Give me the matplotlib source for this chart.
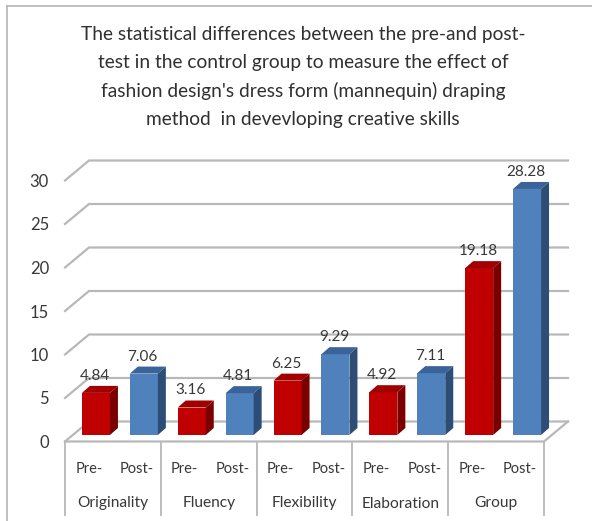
import matplotlib
matplotlib.use("Agg")
import matplotlib.pyplot as plt
from matplotlib.patches import Polygon

groups = ["Originality", "Fluency", "Flexibility", "Elaboration", "Group"]
pre_values = [4.84, 3.16, 6.25, 4.92, 19.18]
post_values = [7.06, 4.81, 9.29, 7.11, 28.28]
bar_labels = ["Pre-", "Post-"]
y_ticks = [0, 5, 10, 15, 20, 25, 30]
title_text = ("The statistical differences between the pre-and post-\n"
              "test in the control group to measure the effect of\n"
              "fashion design's dress form (mannequin) draping\n"
              "method  in devevloping creative skills")

plt.rcParams["font.family"] = ["Lato", "DejaVu Sans"]

W, H = 592, 521
fig = plt.figure(figsize=(W / 100, H / 100), dpi=100)

# plot area in pixels
left, right, top, bottom = 65, 568, 160, 441.5
ax = fig.add_axes([left / W, 1 - bottom / H, (right - left) / W, (bottom - top) / H])
slot_px = 47.9
unit_px = 8.7
ax.set_xlim(0, (right - left) / slot_px)
ax.set_ylim(0, (bottom - top) / unit_px)
for s in ax.spines.values():
    s.set_visible(False)

text_col = "#383838"
grid_col = "#b8b8b8"

# depth of the floor, in data units
floor_dx = 24 / slot_px
floor_dy = 20 / unit_px
n_slots = len(groups) * 2

# walls: slanted piece on the left and a long line at the back
for v in y_ticks:
    ax.plot([0, floor_dx, ax.get_xlim()[1]], [v, v + floor_dy, v + floor_dy],
            color=grid_col, lw=1.6, zorder=1, clip_on=False, solid_joinstyle="miter")

# floor outline
ax.plot([0, n_slots, n_slots + floor_dx], [0, 0, floor_dy],
        color=grid_col, lw=1.6, zorder=1, clip_on=False)

# 3D-looking bars
bar_w = 28 / slot_px
shift_x = 7 / slot_px
base_y = 6.5 / unit_px
depth_x = 8 / slot_px
depth_y = 7 / unit_px
red = ("#c00000", "#a00000", "#7a0000")
blue = ("#4f81bd", "#3a639a", "#2c4d75")

values = []
for a, b in zip(pre_values, post_values):
    values += [a, b]

for i, v in enumerate(values):
    front, roof, side = red if i % 2 == 0 else blue
    x0 = i + 0.5 - bar_w / 2 + shift_x
    x1 = x0 + bar_w
    y0 = base_y
    y1 = base_y + v
    ax.add_patch(Polygon([(x0, y0), (x1, y0), (x1, y1), (x0, y1)], fc=front, ec="none", zorder=3))
    ax.add_patch(Polygon([(x0, y1), (x1, y1), (x1 + depth_x, y1 + depth_y), (x0 + depth_x, y1 + depth_y)],
                         fc=roof, ec="none", zorder=3))
    ax.add_patch(Polygon([(x1, y0), (x1 + depth_x, y0 + depth_y), (x1 + depth_x, y1 + depth_y), (x1, y1)],
                         fc=side, ec="none", zorder=3))
    ax.text(x0 + bar_w / 2 + depth_x / 2 - 0.11, y1 + depth_y + 0.35, "%.2f" % v, ha="center", va="bottom",
            fontsize=11, color=text_col, zorder=4)

# axis ticks
ax.set_yticks(y_ticks)
ax.set_yticklabels([str(v) for v in y_ticks], fontsize=12, color=text_col)
ax.set_xticks([i + 0.5 for i in range(n_slots)])
ax.set_xticklabels(bar_labels * len(groups), fontsize=10.5, color=text_col)
ax.tick_params(axis="y", length=0, pad=11.5)
ax.tick_params(axis="x", length=0, pad=14.5)

# multi-level category axis below the floor
tr = ax.get_xaxis_transform()
for k in range(len(groups) + 1):
    ax.plot([k * 2, k * 2], [0, -73.5 / (bottom - top)], transform=tr, color=grid_col, lw=1.3,
            clip_on=False, zorder=1)
for k, name in enumerate(groups):
    ax.text(k * 2 + 1, -62 / (bottom - top), name, transform=tr, ha="center", va="center",
            fontsize=11.2, color=text_col)

fig.text(303 / W, 1 - 77 / H, title_text, ha="center", va="center", fontsize=13.8,
         color="#303030", linespacing=1.78)

# frame around the chart, left and top edges only
fig.add_artist(plt.Line2D([7 / W, 7 / W], [0, 1 - 6 / H], color="#b5b5b5", lw=1.2))
fig.add_artist(plt.Line2D([7 / W, 1], [1 - 6 / H, 1 - 6 / H], color="#b5b5b5", lw=1.2))

fig.savefig("out.png", dpi=100)
